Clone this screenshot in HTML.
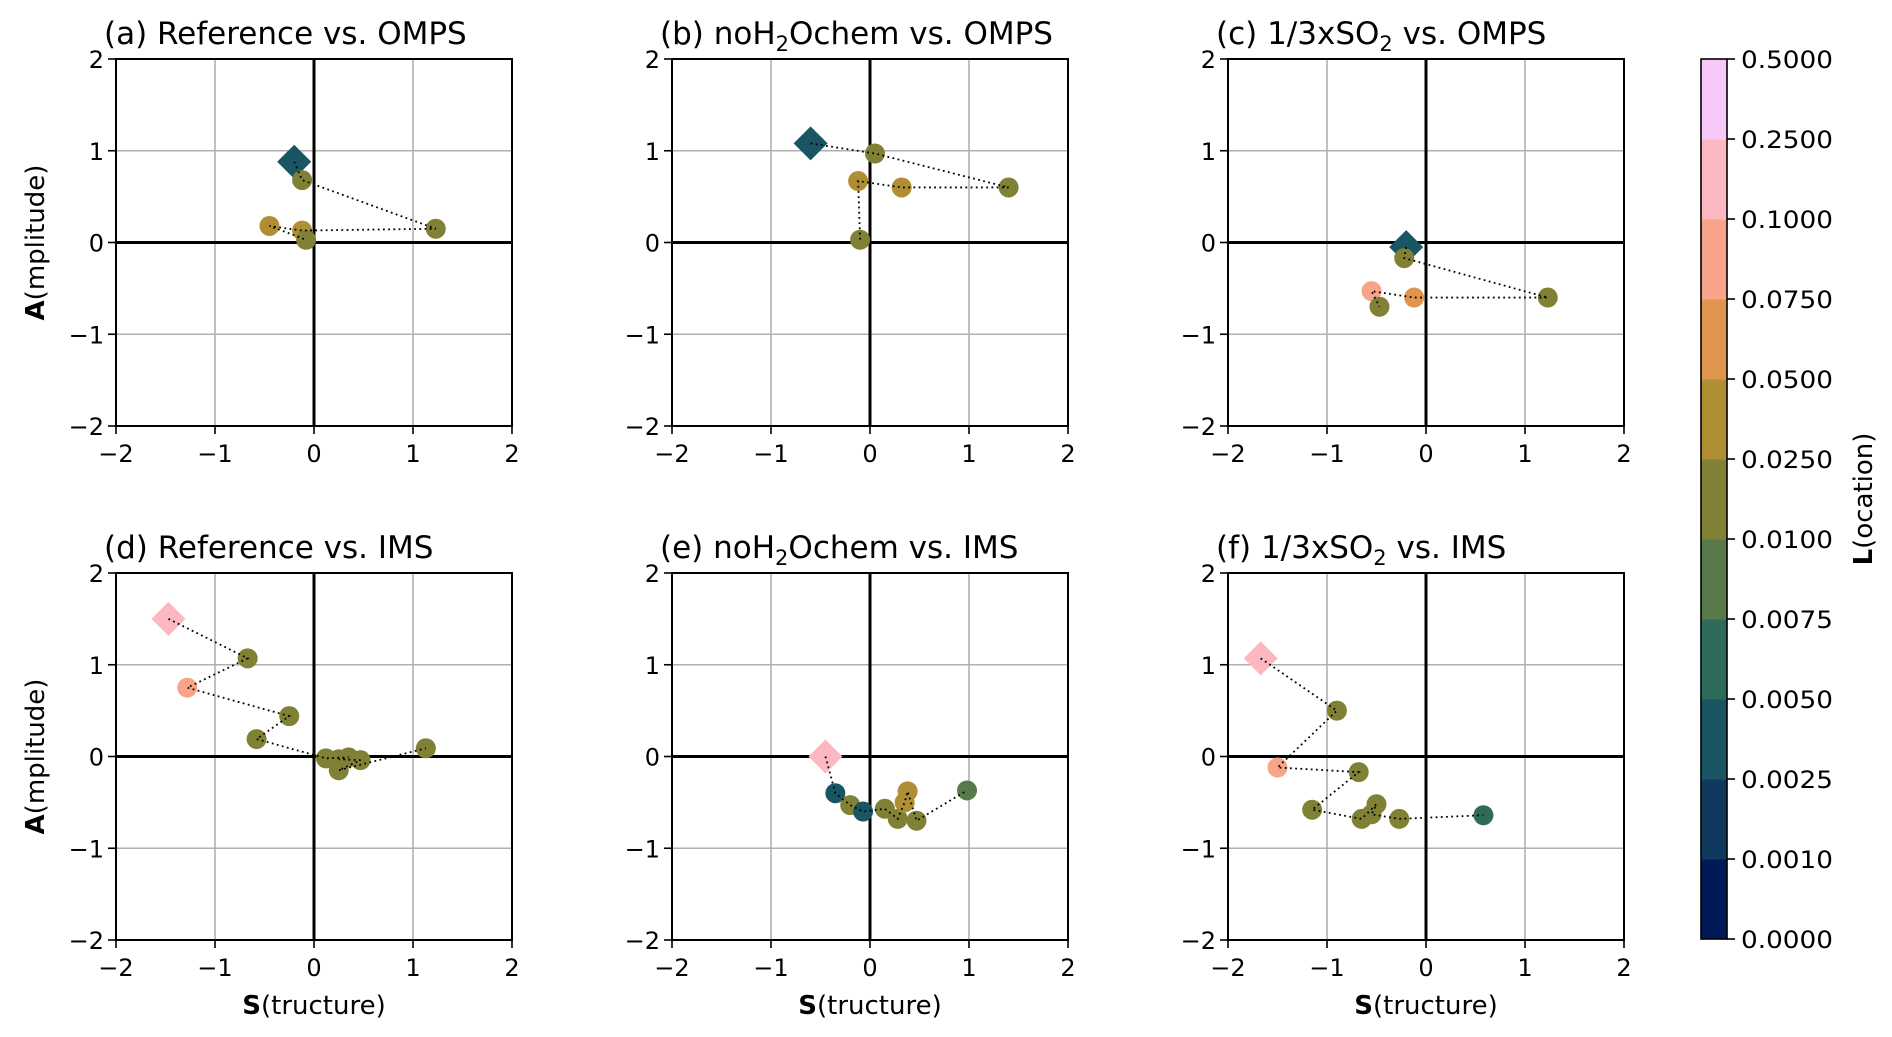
<!DOCTYPE html>
<html><head><meta charset="utf-8">
<style>
html,body{margin:0;padding:0;background:#fff;}
svg{display:block;font-family:"DejaVu Sans","Liberation Sans",sans-serif;}
</style></head>
<body>
<svg id="fig" width="1892" height="1037" viewBox="0 0 1892 1037" xmlns="http://www.w3.org/2000/svg"></svg>
<script>
// Colour levels (colorbar bands, bottom to top)
const levelColors = ["#001a57","#0f3a5e","#1a5563","#2e6b5b","#587a4a","#818135","#b08e33","#e0954f","#f8a48a","#fcb7c1","#f8c8f8"];
const levelLabels = ["0.0000","0.0010","0.0025","0.0050","0.0075","0.0100","0.0250","0.0500","0.0750","0.1000","0.2500","0.5000"];
const axisTicks = [-2,-1,0,1,2];

// Panel data: S values, A values, colour level index (first point = diamond)
const aS = [-0.2,-0.12,1.23,-0.12,-0.45,-0.08];
const aA = [0.88,0.68,0.15,0.13,0.18,0.03];
const aL = [2,5,5,6,6,5];
const bS = [-0.6,0.05,1.4,0.32,-0.12,-0.1];
const bA = [1.08,0.97,0.6,0.6,0.67,0.03];
const bL = [2,5,5,6,6,5];
const cS = [-0.2,-0.22,1.23,-0.12,-0.55,-0.47];
const cA = [-0.05,-0.17,-0.6,-0.6,-0.53,-0.7];
const cL = [2,5,5,7,8,5];
const dS = [-1.47,-0.67,-1.28,-0.25,-0.58,0.12,0.35,0.25,0.47,0.25,1.13];
const dA = [1.5,1.07,0.75,0.44,0.19,-0.02,-0.01,-0.03,-0.04,-0.15,0.09];
const dL = [9,5,8,5,5,5,5,5,5,5,5];
const eS = [-0.45,-0.35,-0.2,-0.07,0.15,0.28,0.35,0.38,0.47,0.98];
const eA = [0,-0.4,-0.53,-0.6,-0.57,-0.68,-0.5,-0.38,-0.7,-0.37];
const eL = [9,2,5,2,5,5,6,6,5,4];
const fS = [-1.67,-0.9,-1.5,-0.68,-1.15,-0.65,-0.5,-0.55,-0.27,0.58];
const fA = [1.07,0.5,-0.12,-0.17,-0.58,-0.68,-0.52,-0.63,-0.68,-0.64];
const fL = [9,5,8,5,5,5,5,5,5,3];

const NS="http://www.w3.org/2000/svg";
const svg=document.getElementById('fig');
function mk(tag,attrs,parent){const e=document.createElementNS(NS,tag);for(const k in attrs)e.setAttribute(k,attrs[k]);(parent||svg).appendChild(e);return e;}

const panels=[
 {id:'a',x0:116,y0:59,S:aS,A:aA,L:aL,title:['(a) Reference vs. OMPS']},
 {id:'b',x0:672,y0:59,S:bS,A:bA,L:bL,title:['(b) noH','2','Ochem vs. OMPS']},
 {id:'c',x0:1228,y0:59,S:cS,A:cA,L:cL,title:['(c) 1/3xSO','2',' vs. OMPS']},
 {id:'d',x0:116,y0:573,S:dS,A:dA,L:dL,title:['(d) Reference vs. IMS']},
 {id:'e',x0:672,y0:573,S:eS,A:eA,L:eL,title:['(e) noH','2','Ochem vs. IMS']},
 {id:'f',x0:1228,y0:573,S:fS,A:fA,L:fL,title:['(f) 1/3xSO','2',' vs. IMS']}
];
const W=396,H=367;
panels.forEach(p=>{
  const g=mk('g',{});
  
  
  const xs=v=>p.x0+(v+2)/4*W;
  const ys=v=>p.y0+(2-v)/4*H;
  axisTicks.forEach(t=>{
    const gx=mk('line',{x1:xs(t),x2:xs(t),y1:p.y0,y2:p.y0+H,stroke:'#b0b0b0','stroke-width':1.6},g);
    
    
    const gy=mk('line',{x1:p.x0,x2:p.x0+W,y1:ys(t),y2:ys(t),stroke:'#b0b0b0','stroke-width':1.6},g);
    
    
    mk('line',{x1:xs(t),x2:xs(t),y1:p.y0+H,y2:p.y0+H+8,stroke:'#000','stroke-width':1.6},g);
    mk('line',{x1:p.x0-8,x2:p.x0,y1:ys(t),y2:ys(t),stroke:'#000','stroke-width':1.6},g);
    const tx=mk('text',{x:xs(t),y:p.y0+H+36,'text-anchor':'middle','font-size':24},g);
    tx.textContent=(t<0?'\u2212':'')+Math.abs(t);
    
    
    const ty=mk('text',{x:p.x0-12,y:ys(t)+9,'text-anchor':'end','font-size':24},g);
    ty.textContent=(t<0?'\u2212':'')+Math.abs(t);
    
    
  });
  mk('line',{x1:xs(0),x2:xs(0),y1:p.y0,y2:p.y0+H,stroke:'#000','stroke-width':3},g);
  mk('line',{x1:p.x0,x2:p.x0+W,y1:ys(0),y2:ys(0),stroke:'#000','stroke-width':3},g);
  const fr=mk('rect',{x:p.x0,y:p.y0,width:W,height:H,fill:'none',stroke:'#000','stroke-width':2},g);
  
  
  p.S.forEach((s,i)=>{
    const cx=xs(s),cy=ys(p.A[i]);
    let m;
    if(i===0){
      const r=17;
      m=mk('polygon',{points:`${cx},${cy-r} ${cx+r},${cy} ${cx},${cy+r} ${cx-r},${cy}`,fill:levelColors[p.L[i]]},g);
      
    } else {
      m=mk('circle',{cx:cx,cy:cy,r:10,fill:levelColors[p.L[i]]},g);
      
    }
    
  });
  const d=p.S.map((s,i)=>(i?'L':'M')+xs(s)+','+ys(p.A[i])).join(' ');
  const pl=mk('path',{d:d,fill:'none',stroke:'#000','stroke-width':1.8,'stroke-dasharray':'1.8 3.4'},g);
  
  
  const tt=mk('text',{x:p.x0-12,y:p.y0-15,'font-size':31},g);
  
  
  if(p.title.length===1){tt.textContent=p.title[0];}
  else{
    const t1=mk('tspan',{},tt);t1.textContent=p.title[0];
    const t2=mk('tspan',{'font-size':21,dy:7},tt);t2.textContent=p.title[1];
    const t3=mk('tspan',{dy:-7},tt);t3.textContent=p.title[2];
  }
});

[59,573].forEach(y0=>{
  const t=mk('text',{transform:`translate(44,${y0+H/2}) rotate(-90)`,'text-anchor':'middle','font-size':26});
  
  
  const b=mk('tspan',{'font-weight':'bold'},t);b.textContent='A';
  const r=mk('tspan',{},t);r.textContent='(mplitude)';
});
[116,672,1228].forEach(x0=>{
  const t=mk('text',{x:x0+W/2,y:1014,'text-anchor':'middle','font-size':26});
  
  
  const b=mk('tspan',{'font-weight':'bold'},t);b.textContent='S';
  const r=mk('tspan',{},t);r.textContent='(tructure)';
});

const cbX=1701,cbW=26,cbTop=59,cbBot=939;
const band=(cbBot-cbTop)/levelColors.length;
levelColors.forEach((c,i)=>{
  const r=mk('rect',{x:cbX,y:cbBot-(i+1)*band,width:cbW,height:band+0.5,fill:c});
  
  
});
const cbf=mk('rect',{x:cbX,y:cbTop,width:cbW,height:cbBot-cbTop,fill:'none',stroke:'#000','stroke-width':1.6});


levelLabels.forEach((l,i)=>{
  const y=cbBot-i*band;
  mk('line',{x1:cbX+cbW,x2:cbX+cbW+8,y1:y,y2:y,stroke:'#000','stroke-width':1.6});
  const t=mk('text',{x:cbX+cbW+14,y:y+9,'font-size':24,textLength:92,lengthAdjust:'spacingAndGlyphs'});
  t.textContent=l;
  
  
});
const cl=mk('text',{transform:`translate(1872,${(cbTop+cbBot)/2}) rotate(-90)`,'text-anchor':'middle','font-size':26});


const lb=mk('tspan',{'font-weight':'bold'},cl);lb.textContent='L';
const lr=mk('tspan',{},cl);lr.textContent='(ocation)';
</script>
</body></html>
